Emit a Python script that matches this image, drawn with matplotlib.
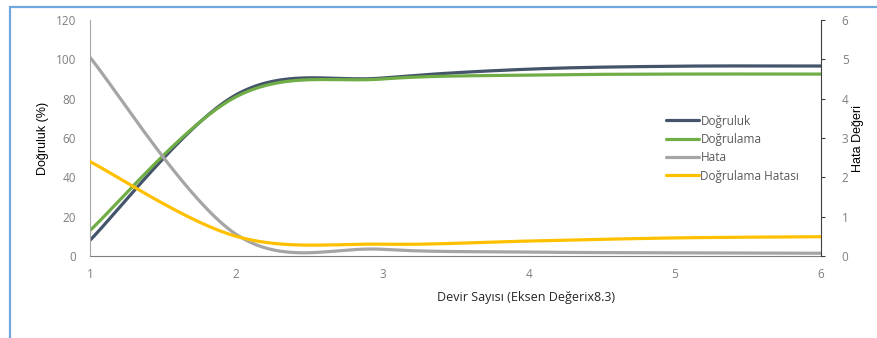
import numpy as np
import matplotlib.pyplot as plt
from matplotlib.patches import Rectangle

epochs = [1, 2, 3, 4, 5, 6]
dogruluk = [8, 82, 90.5, 95, 96.5, 96.6]
dogrulama = [13, 81, 90, 92, 92.5, 92.5]
hata = [5.05, 0.55, 0.17, 0.1, 0.08, 0.07]
dogrulama_hatasi = [2.4, 0.5, 0.3, 0.38, 0.46, 0.49]

series_labels = ["Doğruluk", "Doğrulama", "Hata", "Doğrulama Hatası"]
colors = ["#44546A", "#70AD47", "#A5A5A5", "#FFC000"]

TICK_COLOR = "#7F7F7F"
FONT = ["Open Sans", "DejaVu Sans"]
NARROW = ["Liberation Sans Narrow", "Liberation Sans", "DejaVu Sans"]


def smooth(x, y, steps=40):
    # spreadsheet-style smoothed line: cubic bezier through each point
    x = np.asarray(x, float)
    y = np.asarray(y, float)
    px = np.concatenate([[x[0]], x, [x[-1]]])
    py = np.concatenate([[y[0]], y, [y[-1]]])
    t = np.linspace(0, 1, steps)[:, None]
    xs, ys = [], []
    for i in range(1, len(px) - 2):
        p0 = np.array([px[i], py[i]])
        p3 = np.array([px[i + 1], py[i + 1]])
        p1 = p0 + (np.array([px[i + 1], py[i + 1]]) - np.array([px[i - 1], py[i - 1]])) / 6
        p2 = p3 - (np.array([px[i + 2], py[i + 2]]) - np.array([px[i], py[i]])) / 6
        pts = ((1 - t) ** 3) * p0 + 3 * ((1 - t) ** 2) * t * p1 + 3 * (1 - t) * t ** 2 * p2 + t ** 3 * p3
        xs.append(pts[:, 0])
        ys.append(pts[:, 1])
    return np.concatenate(xs), np.concatenate(ys)


fig = plt.figure(figsize=(8.77, 3.38), dpi=100)
ax = fig.add_axes([90 / 877, 1 - 256 / 338, 731 / 877, 236 / 338])
ax2 = ax.twinx()

lines = []
for vals, lab, col in zip([dogruluk, dogrulama], series_labels[:2], colors[:2]):
    sx, sy = smooth(epochs, vals)
    lines += ax.plot(sx, sy, color=col, lw=2.3, label=lab, solid_capstyle="round")
for vals, lab, col in zip([hata, dogrulama_hatasi], series_labels[2:], colors[2:]):
    sx, sy = smooth(epochs, vals)
    lines += ax2.plot(sx, sy, color=col, lw=2.3, label=lab, solid_capstyle="round")

ax.set_xlim(1, 6)
ax.set_ylim(0, 120)
ax2.set_ylim(0, 6)
ax.set_xticks(epochs)
ax.set_yticks(range(0, 121, 20))
ax2.set_yticks(range(0, 7))

for a in (ax, ax2):
    for s in a.spines.values():
        s.set_visible(False)
ax.spines["left"].set_visible(True)
ax.spines["left"].set_color("#A6A6A6")
ax.spines["bottom"].set_visible(True)
ax.spines["bottom"].set_color("#7F7F7F")
ax2.spines["right"].set_visible(True)
ax2.spines["right"].set_color("#404040")

ax.tick_params(axis="y", length=0, pad=10, labelsize=8.5, labelcolor=TICK_COLOR)
ax.tick_params(axis="x", length=0, pad=9, labelsize=8.5, labelcolor=TICK_COLOR)
ax2.tick_params(axis="y", length=3, color="#404040", pad=12, labelsize=8.5, labelcolor=TICK_COLOR)
for lbl in ax.get_xticklabels() + ax.get_yticklabels() + ax2.get_yticklabels():
    lbl.set_family(FONT)

fig.text(43 / 877, 1 - 138 / 338, "Doğruluk (%)", rotation=90, ha="center", va="center",
         fontsize=9, family=NARROW, color="#000000")
fig.text(858 / 877, 1 - 138 / 338, "Hata Değeri", rotation=90, ha="center", va="center",
         fontsize=9, family=NARROW, color="#000000")
fig.text(526 / 877, 1 - 297 / 338, "Devir Sayısı (Eksen Değerix8.3)", ha="center", va="center",
         fontsize=9, family=FONT, color="#262626")

leg = ax2.legend(lines, series_labels, loc="upper left", bbox_to_anchor=(655 / 877, 1 - 104 / 338),
                 bbox_transform=fig.transFigure, frameon=False, handlelength=2.8, handletextpad=0.15,
                 labelspacing=0.45, prop={"family": FONT, "size": 8.5})
for t in leg.get_texts():
    t.set_color("#595959")

# light blue frame around the chart area
fig.patches.append(Rectangle((9.5 / 877, -0.1), 1.2, 1 - 6.5 / 338 + 0.1, transform=fig.transFigure,
                             fill=False, edgecolor="#6FA8DC", lw=1.6))

fig.savefig("out.png", dpi=100)
